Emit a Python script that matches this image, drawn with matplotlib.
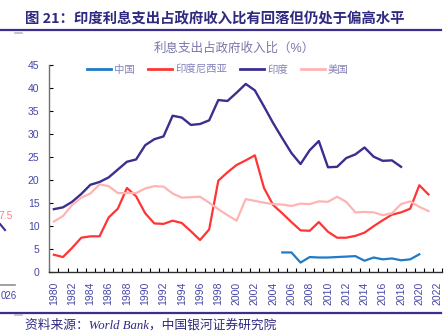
import numpy as np
import matplotlib
matplotlib.use("Agg")
import matplotlib.pyplot as plt
from matplotlib.lines import Line2D

plt.rcParams['font.family'] = ['Liberation Sans', 'Noto Sans CJK SC', 'DejaVu Sans']

# interest payments as % of government revenue
years = np.arange(1980, 2022)

india = [13.7, 14.1, 15.3, 17.0, 19.0, 19.6, 20.6, 22.3, 24.0, 24.5,
         27.6, 28.9, 29.5, 34.0, 33.6, 32.0, 32.2, 33.0, 37.4, 37.2,
         39.0, 40.9, 39.5, 36.0, 32.4, 29.1, 25.9, 23.5, 26.5, 28.5,
         22.8, 22.9, 24.8, 25.6, 27.1, 25.1, 24.2, 24.3, 22.9]
indonesia = [3.8, 3.3, 5.3, 7.5, 7.8, 7.8, 11.9, 13.8, 18.3, 16.5,
             12.8, 10.6, 10.5, 11.2, 10.7, 8.9, 7.0, 9.3, 19.9, 21.7,
             23.3, 24.3, 25.4, 18.3, 14.6, 12.8, 10.9, 9.1, 9.0, 10.9,
             8.8, 7.5, 7.5, 7.9, 8.6, 10.0, 11.3, 12.5, 13.0, 13.8,
             18.9, 16.9]
usa = [11.0, 12.2, 14.6, 16.2, 17.1, 19.1, 18.7, 17.2, 17.2, 17.2,
       18.2, 18.7, 18.6, 17.1, 16.2, 16.3, 16.4, 15.1, 13.7, 12.4,
       11.2, 15.9, 15.5, 15.1, 14.8, 14.7, 14.4, 14.9, 14.8, 15.4,
       15.3, 16.4, 15.3, 13.0, 13.1, 13.0, 12.4, 12.8, 14.8, 15.4,
       14.2, 13.3]
china_years = np.arange(2005, 2021)
china = [4.3, 4.3, 2.1, 3.3, 3.2, 3.2, 3.3, 3.4, 3.5, 2.5,
         3.2, 2.8, 3.0, 2.6, 2.8, 3.9]

navy = '#2e2a80'
tick_col = '#4646a6'

fig = plt.figure(figsize=(4.48, 3.32), dpi=100)
ax = fig.add_axes([0.110, 0.180, 0.877, 0.624])

ax.plot(china_years, china, color='#1f7bc8', lw=1.6, label='中国')
ax.plot(years[:len(indonesia)], indonesia, color='#ff3434', lw=1.6, label='印度尼西亚')
ax.plot(years[:len(india)], india, color='#3a2f8f', lw=1.7, label='印度')
ax.plot(years[:len(usa)], usa, color='#ffb4b4', lw=1.6, label='美国')

ax.set_xlim(1979.5, 2022.5)
ax.set_ylim(0, 45)
ax.set_yticks(np.arange(0, 46, 5))
ax.set_xticks(np.arange(1980, 2023, 2))
ax.set_xticks(np.arange(1979.5, 2023, 1), minor=True)
ax.tick_params(axis='x', which='major', length=0, pad=7, rotation=90,
               labelsize=7.5, labelcolor=tick_col)
ax.tick_params(axis='x', which='minor', direction='in', length=3, width=0.8)
ax.tick_params(axis='y', direction='in', length=3, width=0.8, pad=7,
               labelsize=7.5, labelcolor=tick_col)

for s in ['top', 'right']:
    ax.spines[s].set_visible(False)
ax.spines['left'].set_color('#707070')
ax.spines['bottom'].set_color('#303030')
ax.spines['left'].set_linewidth(1.0)
ax.spines['bottom'].set_linewidth(1.0)

leg = ax.legend(loc='center', bbox_to_anchor=(218 / 448, 1 - 70 / 332),
                bbox_transform=fig.transFigure, ncol=4, frameon=False,
                fontsize=7.5, handlelength=2.3, handletextpad=0.3,
                columnspacing=1.25, borderpad=0)
for t in leg.get_texts():
    t.set_color('#8482b8')
for h in leg.get_lines():
    h.set_linewidth(2.0)

# headings and source line
fig.text(25 / 448, 1 - 19 / 332, '图 21：印度利息支出占政府收入比有回落但仍处于偏高水平',
         fontsize=10.4, fontweight='bold', color=navy, va='center', ha='left',
         family=['Noto Sans CJK SC', 'DejaVu Sans'])
fig.text(234 / 448, 1 - 49 / 332, '利息支出占政府收入比（%）', fontsize=9,
         color='#7a78a8', ha='center', va='center')
fig.text(25 / 448, 1 - 325 / 332, '资料来源：World Bank，中国银河证券研究院',
         fontsize=9.2, style='italic', color=navy, ha='left', va='center',
         family=['Liberation Serif', 'Noto Sans CJK SC'])

fig.add_artist(Line2D([0, 441 / 448], [1 - 30 / 332] * 2, color='#3b2e8c', lw=1.6))
fig.add_artist(Line2D([0, 441 / 448], [1 - 313 / 332] * 2, color='#3b2e8c', lw=1.6))
fig.add_artist(Line2D([15 / 448, 22 / 448], [1 - 32.5 / 332] * 2, color='#b8b8c8', lw=1.2))
fig.add_artist(Line2D([15 / 448, 22 / 448], [1 - 315 / 332] * 2, color='#b8b8c8', lw=1.2))

# leftovers from the neighbouring chart at the edge
fig.text(13 / 448, 1 - 216 / 332, '7.5', fontsize=7.5, color='#ff8080',
         ha='right', va='center')
fig.add_artist(Line2D([0, 5 / 448], [1 - 224 / 332, 1 - 230 / 332],
                      color='#3a2f8f', lw=1.5))
fig.add_artist(Line2D([0, 15 / 448], [1 - 284.5 / 332] * 2, color='#909090', lw=1.2))
fig.text(0.5 / 448, 1 - 296 / 332, '026', fontsize=7, color=tick_col,
         ha='left', va='center')

fig.savefig('out.png', dpi=100)
